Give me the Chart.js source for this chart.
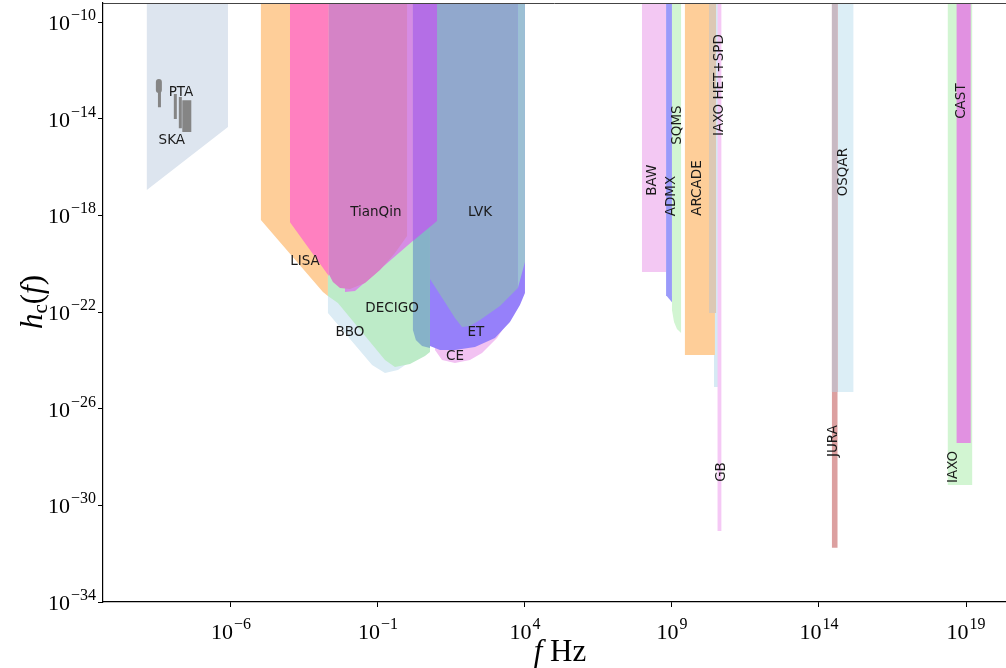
<!DOCTYPE html>
<html>
<head>
<meta charset="utf-8">
<script src="https://cdn.jsdelivr.net/npm/chart.js@4.4.0/dist/chart.umd.min.js"></script>
<style>
  html, body { margin: 0; padding: 0; background: #fff; }
</style>
</head>
<body>
<canvas id="myChart" width="1006" height="668"></canvas>
<script>
// all values are log10: F = frequency in Hz, H = characteristic strain h_c
const TOP = -9; // just above the frame, regions run off the top

const ptaF = [-8.86, -6.10, -6.10, -8.86];
const ptaH = [-16.95, -14.34, TOP, TOP];

const lisaF = [-4.98, -4.98, -2.87, -2.53, -2.19, -1.95, -1.95];
const lisaH = [TOP, -18.19, -21.17, -21.50, -21.54, -21.42, TOP];

const bboF = [-2.70, -2.70, -1.20, -0.76, -0.32, 0.43, 0.77, 0.77];
const bboH = [TOP, -22.04, -24.19, -24.52, -24.40, -23.78, -23.36, TOP];

const decigoF = [-2.70, -2.70, -2.36, -0.76, -0.42, 0.09, 0.60, 0.77, 0.77];
const decigoH = [TOP, -21.34, -21.63, -23.98, -24.27, -24.15, -23.82, -23.65, TOP];

const violetF = [-2.12, -2.12, -1.78, 1.01, 1.01];
const violetH = [TOP, -21.17, -21.13, -18.19, TOP];

const tianqinF = [-3.99, -3.99, -2.67, -2.67];
const tianqinH = [TOP, -18.28, -20.51, TOP];

const tianqinMixF = [-2.67, -2.67, -2.53, -2.29, -1.95, -1.44, -0.93, -0.42, -0.01, -0.01];
const tianqinMixH = [TOP, -20.43, -20.76, -21.01, -21.05, -20.80, -20.26, -19.56, -18.85, TOP];

const ceF = [0.94, 0.94, 1.18, 1.62, 2.13, 2.54, 3.05, 3.59, 4.00, 4.00];
const ceH = [TOP, -23.57, -23.98, -24.11, -23.98, -23.70, -23.07, -22.08, -21.09, TOP];

const etF = [0.77, 0.77, 1.11, 1.62, 2.30, 2.98, 3.49, 3.83, 4.00, 4.00];
const etH = [TOP, -23.41, -23.57, -23.57, -23.45, -23.07, -22.41, -21.71, -21.21, TOP];

const tealF = [0.19, 0.19, 0.29, 0.50, 0.77, 0.77];
const tealH = [TOP, -22.74, -23.16, -23.41, -23.49, TOP];

const lvkF = [0.77, 0.77, 1.28, 1.62, 1.86, 2.13, 2.47, 3.15, 3.76, 3.76];
const lvkH = [TOP, -20.63, -21.59, -22.25, -22.62, -22.58, -22.33, -21.75, -21.01, TOP];

const lvkEdgeF = [3.76, 3.76, 4.00, 4.00];
const lvkEdgeH = [TOP, -21.01, -19.93, TOP];

const overlapF = [0.19, 0.19, 1.01, 1.01];
const overlapH = [TOP, -19.06, -18.23, TOP];

const bawF = [7.98, 8.80, 8.80, 7.98];
const bawH = [-20.34, -20.34, TOP, TOP];

const admxF = [8.80, 9.00, 9.00, 8.80];
const admxH = [-21.30, -21.59, TOP, TOP];

const sqmsF = [9.00, 9.00, 9.07, 9.17, 9.31, 9.31];
const sqmsH = [TOP, -21.92, -22.41, -22.70, -22.87, TOP];

const hetBlueF = [10.43, 10.57, 10.57, 10.43];
const hetBlueH = [-25.10, -25.10, TOP, TOP];

const arcadeF = [9.44, 10.46, 10.46, 9.44];
const arcadeH = [-23.78, -23.78, TOP, TOP];

const hetF = [10.26, 10.50, 10.50, 10.26];
const hetH = [-22.04, -22.04, TOP, TOP];

const gbF = [10.55, 10.68, 10.68, 10.55];
const gbH = [-31.06, -31.06, TOP, TOP];

const osqarF = [14.44, 15.17, 15.17, 14.44];
const osqarH = [-25.31, -25.31, TOP, TOP];

const juraF = [14.44, 14.63, 14.63, 14.44];
const juraH = [-31.76, -31.76, TOP, TOP];
const juraOverlapH = [-25.31, -25.31, TOP, TOP];

const iaxoF = [18.38, 19.21, 19.21, 18.38];
const iaxoH = [-29.16, -29.16, TOP, TOP];

const castF = [18.68, 19.16, 19.16, 18.68];
const castH = [-27.42, -27.42, TOP, TOP];

// pulsar timing sensitivity marks (short vertical strokes)
const markF = [[-8.45, -8.45], [-8.43, -8.43], [-7.89, -7.89], [-7.72, -7.72], [-7.50, -7.50]];
const markH = [[-12.48, -12.81], [-12.73, -13.52], [-12.98, -14.01], [-13.10, -14.39], [-13.23, -14.55]];

const labelText = ['PTA', 'SKA', 'LISA', 'TianQin', 'LVK', 'DECIGO', 'BBO', 'ET', 'CE',
  'BAW', 'ADMX', 'SQMS', 'ARCADE', 'IAXO HET+SPD', 'GB', 'OSQAR', 'JURA', 'CAST', 'IAXO'];
const labelF = [-7.70, -8.01, -3.48, -1.07, 2.47, -0.52, -1.95, 2.33, 1.62,
  8.35, 8.97, 9.20, 9.88, 10.63, 10.67, 14.82, 14.48, 18.86, 18.59];
const labelH = [-12.90, -14.92, -19.89, -17.90, -17.86, -21.87, -22.83, -22.83, -23.82,
  -16.54, -17.20, -14.26, -16.87, -12.61, -28.62, -16.21, -27.34, -13.27, -28.41];
const labelVertical = [0, 0, 0, 0, 0, 0, 0, 0, 0, 1, 1, 1, 1, 1, 1, 1, 1, 1, 1];

const xTickExp = [-6, -1, 4, 9, 14, 19];
const yTickExp = [-10, -14, -18, -22, -26, -30, -34];

// back to front
const regions = [
  [ptaF, ptaH, '#dde5ef'],
  [lisaF, lisaH, '#fece99'],
  [bboF, bboH, '#dcecf5'],
  [decigoF, decigoH, '#bdebc8'],
  [violetF, violetH, '#d68ce4'],
  [tianqinF, tianqinH, '#ff80c0'],
  [tianqinMixF, tianqinMixH, '#d583c6'],
  [ceF, ceH, '#f2c2f2'],
  [etF, etH, '#9680fa'],
  [tealF, tealH, '#86b2c8'],
  [lvkF, lvkH, '#91a8cd'],
  [lvkEdgeF, lvkEdgeH, '#9cc0d4'],
  [overlapF, overlapH, '#b46ee6'],
  [bawF, bawH, '#f3c8f3'],
  [admxF, admxH, '#9a9afa'],
  [sqmsF, sqmsH, '#d2f5d2'],
  [hetBlueF, hetBlueH, '#d6eaf4'],
  [arcadeF, arcadeH, '#fece99'],
  [hetF, hetH, '#dcc8b4'],
  [gbF, gbH, '#f5c8f5'],
  [osqarF, osqarH, '#dceef6'],
  [juraF, juraH, '#dca0a0'],
  [juraF, juraOverlapH, '#c8b9c3'],
  [iaxoF, iaxoH, '#d2f5d2'],
  [castF, castH, '#e191e1'],
];
const markWidth = [6, 3, 3, 3, 9];

const pts = (F, H) => F.map((f, i) => ({ x: Math.pow(10, f), y: Math.pow(10, H[i]) }));

const datasets = regions.map(([F, H, color], i) => ({
  data: pts(F, H),
  fill: 'shape',
  backgroundColor: color,
  borderColor: 'rgba(0,0,0,0)',
  borderWidth: 0,
  pointRadius: 0,
  order: -i,
}));
markF.forEach((F, i) => datasets.push({
  data: pts(F, markH[i]),
  fill: false,
  borderColor: '#858585',
  borderWidth: markWidth[i],
  borderCapStyle: i === 0 ? 'round' : 'butt',
  pointRadius: 0,
  order: -100 - i,
}));

const SERIF = '"Liberation Serif", "DejaVu Serif", serif';

function drawPow(ctx, exp, x, y, align) {
  const base = '10';
  const sup = (exp < 0 ? '\u2212' : '') + Math.abs(exp);
  ctx.font = '22px ' + SERIF;
  const wb = ctx.measureText(base).width;
  ctx.font = '16px ' + SERIF;
  const ws = ctx.measureText(sup).width;
  const total = wb + 1 + ws;
  const left = align === 'center' ? x - total / 2 : x - total;
  ctx.textAlign = 'left';
  ctx.font = '22px ' + SERIF;
  ctx.fillText(base, left, y);
  ctx.font = '16px ' + SERIF;
  ctx.fillText(sup, left + wb + 1, y - 10);
}

function drawParts(ctx, parts, cx, baseline) {
  let total = 0;
  parts.forEach(p => { ctx.font = p[1]; total += ctx.measureText(p[0]).width; });
  let x = cx - total / 2;
  ctx.textAlign = 'left';
  parts.forEach(p => {
    ctx.font = p[1];
    ctx.fillText(p[0], x, baseline + (p[2] || 0));
    x += ctx.measureText(p[0]).width;
  });
}

const textPlugin = {
  id: 'textPlugin',
  afterDatasetsDraw(chart) {
    const { ctx, scales: { x, y } } = chart;
    ctx.save();
    ctx.fillStyle = '#1a1a1a';
    ctx.font = '13.5px "DejaVu Sans", sans-serif';
    ctx.textAlign = 'center';
    ctx.textBaseline = 'middle';
    labelText.forEach((t, i) => {
      const px = x.getPixelForValue(Math.pow(10, labelF[i]));
      const py = y.getPixelForValue(Math.pow(10, labelH[i]));
      ctx.save();
      ctx.translate(px, py);
      if (labelVertical[i]) ctx.rotate(-Math.PI / 2);
      ctx.fillText(t, 0, 0);
      ctx.restore();
    });
    ctx.restore();
  },
  afterDraw(chart) {
    const { ctx, chartArea: a, scales: { x, y } } = chart;
    ctx.save();
    ctx.strokeStyle = '#444';
    ctx.lineWidth = 1;
    ctx.beginPath();
    ctx.moveTo(a.left, a.top + 0.5);
    ctx.lineTo(a.right, a.top + 0.5);
    ctx.stroke();

    ctx.fillStyle = '#000';
    ctx.textBaseline = 'alphabetic';
    x.ticks.forEach((t, i) => drawPow(ctx, xTickExp[i], x.getPixelForValue(t.value), a.bottom + 37, 'center'));
    y.ticks.forEach((t, i) => drawPow(ctx, yTickExp[i], a.left - 7, y.getPixelForValue(t.value) + 8, 'right'));

    // x title: f Hz
    drawParts(ctx, [['f', 'italic 31px ' + SERIF], [' Hz', '31px ' + SERIF]], 560, 661);

    // y title: h_c(f)
    ctx.save();
    ctx.translate(32, 302);
    ctx.rotate(-Math.PI / 2);
    drawParts(ctx, [
      ['h', 'italic 31px ' + SERIF],
      ['c', '21px ' + SERIF, 5],
      ['(', '31px ' + SERIF],
      ['f', 'italic 31px ' + SERIF],
      [')', '31px ' + SERIF],
    ], 0, 10);
    ctx.restore();
    ctx.restore();
  }
};

const axisStyle = (exps) => ({
  type: 'logarithmic',
  bounds: 'data',
  afterBuildTicks: s => { s.ticks = exps.map(e => ({ value: Math.pow(10, e) })); },
  ticks: { display: false },
  grid: { drawOnChartArea: false, drawTicks: true, tickLength: 5, color: '#000', lineWidth: 1 },
  border: { display: true, color: '#000', width: 1.2 },
});

const myChart = new Chart(document.getElementById('myChart'), {
  type: 'line',
  data: { datasets },
  options: {
    responsive: false,
    animation: false,
    devicePixelRatio: 1,
    events: [],
    layout: { padding: { left: 98, top: 3, right: 0, bottom: 61 } },
    elements: { line: { tension: 0 }, point: { radius: 0 } },
    plugins: { legend: { display: false }, tooltip: { enabled: false } },
    scales: {
      x: Object.assign(axisStyle(xTickExp), { min: Math.pow(10, -10.35), max: Math.pow(10, 20.36) }),
      y: Object.assign(axisStyle(yTickExp), { min: 1e-34, max: Math.pow(10, -9.21) }),
    },
  },
  plugins: [textPlugin],
});
</script>
</body>
</html>
